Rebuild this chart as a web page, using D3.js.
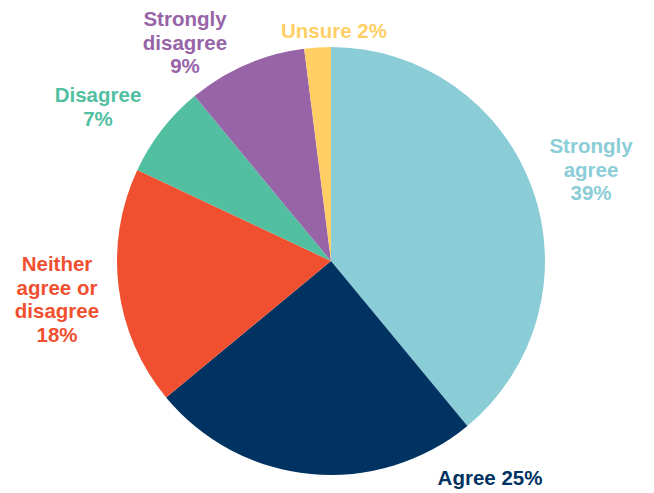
<!DOCTYPE html>
<html>
<head>
<meta charset="utf-8">
<script src="https://cdn.jsdelivr.net/npm/d3@7"></script>
<style>
  html, body { margin: 0; padding: 0; background: #ffffff; }
  svg { display: block; }
  text { font-family: "Liberation Sans", Arial, sans-serif; font-weight: bold; }
</style>
</head>
<body>
<svg id="chart" width="654" height="493"></svg>
<script>
// Survey responses, clockwise from 12 o'clock
const categories = ["Strongly agree", "Agree", "Neither agree or disagree", "Disagree", "Strongly disagree", "Unsure"];
const values = [39, 25, 18, 7, 9, 2];
const colors = ["#8BCDD7", "#003262", "#F05030", "#52BFA1", "#9864A8", "#FFCF65"];
// Label lines per slice (the value is appended from the data)
const labelLines = [
  ["Strongly", "agree", "{v}%"],
  ["Agree {v}%"],
  ["Neither", "agree or", "disagree", "{v}%"],
  ["Disagree", "{v}%"],
  ["Strongly", "disagree", "{v}%"],
  ["Unsure {v}%"]
];

const svg = d3.select("#chart");
const cx = 331, cy = 261, radius = 214;

const pie = d3.pie().sort(null).value(d => d.value);
const data = categories.map((c, i) => ({ name: c, value: values[i], color: colors[i], lines: labelLines[i] }));
const arcs = pie(data);

const g = svg.append("g").attr("transform", `translate(${cx},${cy})`);
const arc = d3.arc().innerRadius(0).outerRadius(radius);

g.selectAll("path")
  .data(arcs)
  .join("path")
  .attr("d", arc)
  .attr("fill", d => d.data.color);

// Label anchors (first baseline) placed outside each slice
const labelPos = [
  { x: 591, y: 153 },
  { x: 490, y: 485 },
  { x: 57, y: 271 },
  { x: 98, y: 102 },
  { x: 185, y: 26 },
  { x: 334, y: 38 }
];
const lineH = 23.5;

svg.selectAll("text.label")
  .data(arcs)
  .join("text")
  .attr("class", "label")
  .attr("text-anchor", "middle")
  .attr("font-size", 20.5)
  .attr("fill", d => d.data.color)
  .each(function(d, i) {
    const t = d3.select(this);
    d.data.lines.forEach((ln, k) => {
      t.append("tspan")
        .attr("x", labelPos[i].x)
        .attr("y", labelPos[i].y + k * lineH)
        .text(ln.replace("{v}", d.data.value));
    });
  });
</script>
</body>
</html>
